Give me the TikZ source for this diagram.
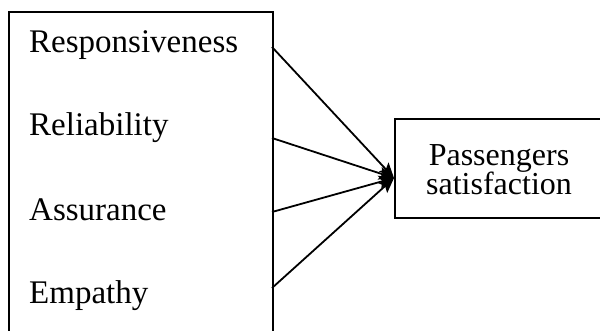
\documentclass[tikz,border=0pt]{standalone}
\usepackage{fontspec}
\setmainfont{Liberation Serif}
\usetikzlibrary{arrows.meta}
\begin{document}
\begin{tikzpicture}[x=1pt,y=-1pt,
  lbl/.style={anchor=base west,inner sep=0pt,font=\fontsize{33}{29}\selectfont},
  sattxt/.style={anchor=base,inner sep=0pt,font=\fontsize{32}{29}\selectfont},
  boxline/.style={draw,line width=2pt},
  conn/.style={line width=1.8pt,-{Stealth[length=15pt,width=13pt,inset=3pt]}}]
\useasboundingbox (0,0) rectangle (600,330);
\clip (0,0) rectangle (600,330);
\fill[white] (0,0) rectangle (600,330);
% left box (extends below the picture)
\node[boxline,minimum width=264pt,minimum height=340pt,inner sep=0pt,anchor=north west] (left) at (8,11) {};
% right box (extends beyond the right edge)
\node[boxline,minimum width=224pt,minimum height=99pt,inner sep=0pt,anchor=north west] (sat) at (394,118) {};
\node[lbl] (resp) at (29,52) {Responsiveness};
\node[lbl] (reli) at (29,135) {Reliability};
\node[lbl] (assu) at (29,220) {Assurance};
\node[lbl] (emp) at (29,303) {Empathy};
\node[sattxt] (pass) at (499,165) {Passengers};
\node[sattxt] (satis) at (499,194) {satisfaction};
\coordinate (s1) at (272,47);
\coordinate (s2) at (272,138);
\coordinate (s3) at (272,212);
\coordinate (s4) at (272,288);
\coordinate (hub) at (394,178);
\draw[conn] (s1) -- (hub);
\draw[conn] (s2) -- (hub);
\draw[conn] (s3) -- (hub);
\draw[conn] (s4) -- (hub);
\end{tikzpicture}
\end{document}
